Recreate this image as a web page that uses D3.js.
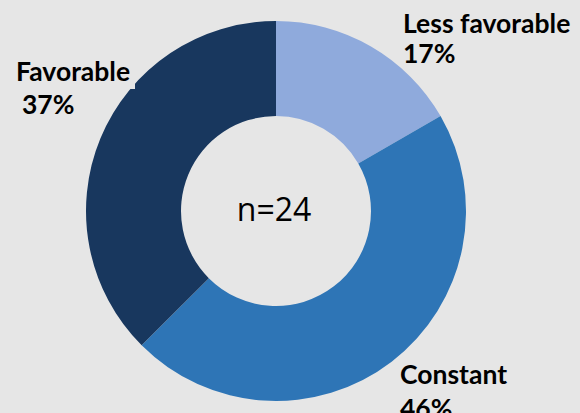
<!DOCTYPE html>
<html>
<head>
<meta charset="utf-8">
<script src="https://cdn.jsdelivr.net/npm/d3@7"></script>
<style>
  html, body { margin: 0; padding: 0; background: #e6e6e6; }
  svg { display: block; }
  .lbl { font-family: Lato, "Open Sans", sans-serif; font-weight: 700; fill: #000; }
</style>
</head>
<body>
<svg id="chart" width="580" height="413"></svg>
<script>
const categories = ["Less favorable", "Constant", "Favorable"];
const counts = [4, 11, 9];
const percentLabels = ["17%", "46%", "37%"];
const colors = ["#8faadc", "#2e75b6", "#18375e"];
const centerText = "n=24";

const W = 580, H = 413;
const cx = 276, cy = 211, rOuter = 190, rInner = 95;

const svg = d3.select("#chart");
svg.append("rect").attr("width", W).attr("height", H).attr("fill", "#e6e6e6");

const pie = d3.pie().sort(null).value(d => d)(counts);
const arc = d3.arc().innerRadius(rInner).outerRadius(rOuter);
const color = d3.scaleOrdinal().domain(categories).range(colors);

const g = svg.append("g").attr("transform", `translate(${cx},${cy})`);
g.selectAll("path").data(pie).join("path")
  .attr("d", arc)
  .attr("fill", (d, i) => color(categories[i]));

g.append("text")
  .attr("x", -2).attr("y", 10)
  .attr("text-anchor", "middle")
  .style("font-family", "'Open Sans', sans-serif")
  .style("font-size", "32px")
  .attr("fill", "#000")
  .text(centerText);

const labelPos = [
  {x: 403, y1: 33, x2: 403, y2: 63},
  {x: 400, y1: 384, x2: 400, y2: 418},
  {x: 16, y1: 81, x2: 22, y2: 114}
];

// background box behind Favorable label
svg.append("rect")
  .attr("x", 10).attr("y", 58).attr("width", 125).attr("height", 31)
  .attr("fill", "#e6e6e6");

labelPos.forEach((p, i) => {
  svg.append("text").attr("class", "lbl")
    .attr("x", p.x).attr("y", p.y1)
    .style("font-size", "26.5px")
    .text(categories[i]);
  svg.append("text").attr("class", "lbl")
    .attr("x", p.x2).attr("y", p.y2)
    .style("font-size", "26.5px")
    .text(percentLabels[i]);
});
</script>
</body>
</html>
